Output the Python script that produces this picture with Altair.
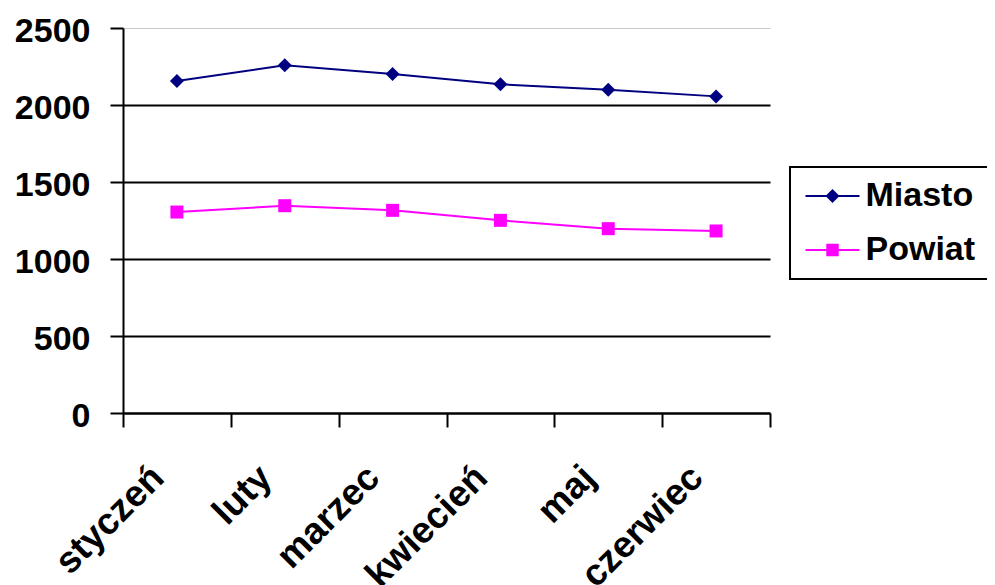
import altair as alt
import pandas as pd

months = ["styczeń", "luty", "marzec", "kwiecień", "maj", "czerwiec"]
miasto = [2156, 2258, 2201, 2134, 2099, 2056]
powiat = [1305, 1346, 1316, 1251, 1197, 1182]
series = ["Miasto", "Powiat"]
colors = ["#000080", "#FF00FF"]
marker_shapes = ["diamond", "square"]
marker_sizes = [196, 169]
y_ticks = [0, 500, 1000, 1500, 2000, 2500]

rows = []
for s, vals in zip(series, [miasto, powiat]):
    for m, v in zip(months, vals):
        rows.append({"month": m, "series": s, "value": v})
df = pd.DataFrame(rows)

FONT = "Liberation Sans"
FS = 34
FSX = 37

# legend symbols: a short line with the series marker on it
miasto_path = "M-2,-0.075H2V0.075H-2Z M0,-0.52L0.52,0L0,0.52L-0.52,0Z"
powiat_path = "M-2,-0.075H2V0.075H-2Z M-0.46,-0.46H0.46V0.46H-0.46Z"

x_enc = alt.X(
    "month:N", sort=months, bandPosition=0.5,
    scale=alt.Scale(type="band", paddingInner=0, paddingOuter=0),
    axis=alt.Axis(
        title=None, labelAngle=-45, labelAlign="right", labelBaseline="top",
        labelFont=FONT, labelFontSize=FSX, labelFontWeight="bold", labelColor="black",
        labelPadding=32, labelOffset=-32, tickBand="extent", tickSize=14,
        tickWidth=2, tickColor="black", domainColor="black", domainWidth=2,
        grid=False, labelOverlap=False, labelLimit=0,
    ),
)

y_enc = alt.Y(
    "value:Q",
    scale=alt.Scale(domain=[0, 2500], nice=False),
    axis=alt.Axis(
        title=None, values=y_ticks, format="d", labelFont=FONT, labelFontSize=FS,
        labelFontWeight="bold", labelColor="black", labelPadding=20,
        tickSize=13, tickWidth=2, tickColor="black", domainColor="black",
        domainWidth=2, grid=True,
        gridColor={"condition": {"test": "datum.value == 2500", "value": "#c8c8c8"}, "value": "black"},
        gridWidth={"condition": {"test": "datum.value == 2500", "value": 1}, "value": 2},
        labelOffset=3,
    ),
)

legend = alt.Legend(
    title=None, orient="none", legendX=667, legendY=139,
    labelFont=FONT, labelFontSize=FS, labelFontWeight="bold", labelColor="black",
    symbolSize=729, symbolOffset=13.5, labelOffset=16, rowPadding=20, padding=12,
    strokeColor="black", symbolStrokeWidth=0, symbolOpacity=1,
)

base = alt.Chart(df)

layers = []
for s, c, shp, sz in zip(series, colors, marker_shapes, marker_sizes):
    sub = base.transform_filter(alt.datum.series == s)
    layers.append(sub.mark_line(strokeWidth=2, color=c).encode(x=x_enc, y=y_enc))
    layers.append(
        sub.mark_point(filled=True, opacity=1, size=sz, shape=shp, color=c).encode(x=x_enc, y=y_enc)
    )

legend_layer = base.mark_point(filled=True, opacity=0, size=10).encode(
    x=x_enc, y=y_enc,
    color=alt.Color("series:N", scale=alt.Scale(domain=series, range=colors), legend=legend),
    shape=alt.Shape("series:N", scale=alt.Scale(domain=series, range=[miasto_path, powiat_path]), legend=legend),
)
layers.append(legend_layer)

chart = alt.layer(*layers).properties(
    width=647, height=385,
    autosize=alt.AutoSizeParams(type="none"),
    padding={"left": 115, "top": 20, "right": 217, "bottom": 172},
).configure_view(stroke=None).configure_legend(strokeWidth=2)

chart.save("out.html", embed_options={"renderer": "svg", "actions": False})
